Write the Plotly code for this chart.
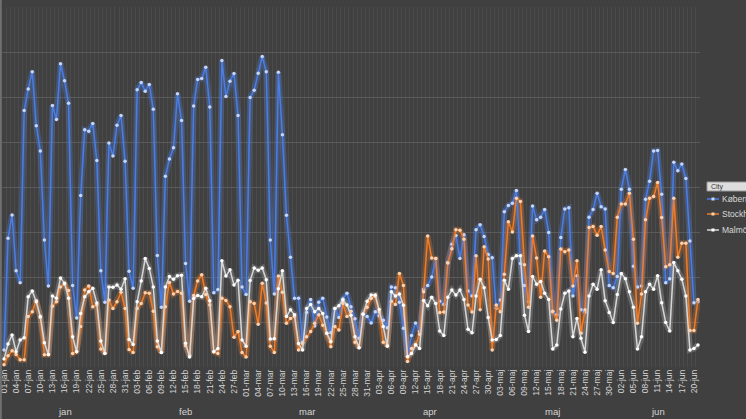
import plotly.graph_objects as go
import pandas as pd

# ---------------- data ----------------
dates = pd.date_range("2020-01-01", "2020-06-21", freq="D")
months_da = ["jan", "feb", "mar", "apr", "maj", "jun"]
day_labels = [f"{d.day:02d}-{months_da[d.month - 1]}" for d in dates]

kobenhavn = [
    0.38, 2.86, 3.38, 2.14, 1.87, 5.70, 6.18, 6.56, 5.36, 4.80,
    2.82, 1.80, 5.81, 5.50, 6.74, 6.36, 5.86, 1.81, 1.09, 3.81,
    5.27, 5.24, 5.41, 4.59, 2.14, 1.44, 4.98, 4.69, 5.37, 5.59,
    4.57, 2.13, 1.75, 6.16, 6.32, 6.13, 6.28, 5.73, 2.48, 1.33,
    4.24, 4.62, 4.87, 6.07, 5.48, 2.30, 1.46, 5.80, 6.39, 6.41,
    6.66, 5.78, 1.65, 1.72, 6.81, 6.01, 6.35, 6.52, 5.59, 1.78,
    1.61, 5.99, 6.15, 6.53, 6.90, 6.56, 2.82, 1.62, 6.55, 5.16,
    3.37, 2.44, 1.53, 1.53, 0.55, 1.21, 1.50, 0.91, 1.44, 1.53,
    1.11, 0.76, 1.30, 1.10, 1.51, 1.64, 1.34, 1.07, 0.64, 1.18,
    1.12, 0.98, 1.23, 1.14, 1.04, 0.87, 1.78, 1.76, 1.44, 0.86,
    0.23, 0.70, 0.98, 0.79, 1.72, 1.81, 2.00, 2.41, 1.46, 1.39,
    2.32, 2.73, 2.92, 2.41, 2.94, 1.69, 1.58, 3.05, 3.16, 2.90,
    2.50, 2.43, 1.30, 1.49, 3.45, 3.59, 3.64, 3.92, 2.30, 1.81,
    1.45, 3.58, 3.27, 3.33, 3.50, 2.99, 1.23, 1.16, 2.88, 3.51,
    3.54, 1.58, 2.03, 1.27, 1.22, 3.33, 3.50, 3.86, 3.56, 3.51,
    1.81, 1.76, 2.01, 3.95, 4.39, 3.95, 2.24, 1.78, 1.80, 3.73,
    4.13, 4.80, 4.81, 3.84, 1.87, 1.96, 4.55, 4.36, 4.51, 4.19,
    2.80, 1.43, 1.45,
]

stockholm = [
    0.05, 0.25, 0.36, 0.28, 0.16, 0.16, 1.12, 1.23, 1.48, 1.10,
    0.27, 0.27, 1.35, 1.45, 1.78, 1.84, 1.70, 0.30, 0.34, 0.90,
    1.71, 1.80, 1.34, 1.38, 0.40, 0.30, 1.49, 1.30, 1.45, 1.66,
    1.30, 0.39, 0.32, 1.30, 1.41, 1.65, 1.64, 1.24, 0.45, 0.32,
    1.34, 1.88, 1.62, 1.68, 1.64, 0.47, 0.26, 1.59, 1.91, 2.05,
    1.61, 1.38, 0.34, 0.30, 1.53, 1.48, 1.34, 0.66, 0.79, 0.32,
    0.22, 1.45, 1.41, 0.95, 1.86, 1.42, 0.46, 0.32, 2.02, 1.66,
    0.97, 1.08, 1.12, 0.38, 0.53, 0.67, 0.79, 0.97, 1.16, 0.93,
    0.75, 0.45, 0.90, 0.82, 1.41, 1.12, 1.24, 0.55, 0.43, 1.18,
    1.33, 1.52, 1.57, 1.22, 0.55, 0.49, 1.46, 1.39, 2.08, 1.81,
    0.12, 0.41, 0.50, 0.73, 1.67, 2.91, 2.42, 2.41, 1.21, 1.22,
    2.31, 2.63, 3.05, 3.04, 2.84, 1.38, 1.22, 2.47, 1.27, 2.67,
    2.40, 0.38, 1.38, 1.23, 2.06, 3.23, 3.00, 3.75, 3.68, 2.27,
    1.33, 2.91, 2.42, 1.55, 2.58, 2.45, 1.24, 1.04, 2.62, 2.56,
    2.60, 1.80, 2.36, 0.75, 1.27, 3.10, 3.12, 2.93, 3.12, 2.60,
    2.12, 2.08, 3.33, 3.62, 3.62, 3.86, 2.84, 0.97, 1.62, 3.27,
    3.75, 3.79, 4.10, 3.32, 2.23, 2.27, 3.75, 2.44, 2.75, 2.75,
    0.81, 0.81, 1.50,
]

malmo = [
    0.18, 0.51, 0.71, 0.34, 0.60, 0.65, 1.56, 1.69, 1.45, 1.12,
    0.54, 0.28, 1.58, 1.53, 1.98, 1.86, 1.53, 0.67, 0.34, 1.19,
    1.56, 1.67, 1.75, 1.42, 0.58, 0.30, 1.78, 1.77, 1.82, 1.73,
    1.96, 0.61, 0.50, 1.45, 1.91, 2.41, 2.19, 1.78, 0.58, 0.32,
    1.78, 2.01, 1.95, 2.03, 2.04, 0.53, 0.22, 1.52, 1.59, 1.56,
    1.75, 1.47, 0.34, 0.41, 2.36, 2.02, 2.16, 1.82, 1.93, 0.60,
    0.46, 1.92, 2.20, 2.15, 2.20, 1.94, 0.62, 0.63, 1.74, 2.14,
    1.12, 1.27, 1.16, 0.52, 0.38, 1.30, 1.39, 1.23, 1.30, 1.19,
    0.75, 0.56, 1.30, 1.36, 1.49, 1.38, 1.15, 0.67, 0.43, 1.17,
    1.46, 1.60, 1.60, 1.28, 0.90, 0.46, 1.67, 1.58, 1.62, 1.37,
    0.23, 0.30, 0.49, 0.41, 1.48, 1.36, 1.55, 1.41, 0.80, 0.70,
    1.55, 1.71, 1.60, 1.71, 1.50, 0.84, 0.76, 1.58, 1.95, 1.76,
    1.10, 0.60, 0.61, 0.70, 1.93, 1.73, 2.41, 2.47, 2.47, 1.15,
    0.79, 2.01, 1.84, 1.90, 1.64, 1.50, 0.40, 0.49, 1.29, 1.64,
    1.69, 0.67, 1.08, 0.64, 0.33, 1.58, 1.84, 1.73, 2.16, 1.47,
    1.21, 0.99, 1.61, 2.08, 1.96, 1.67, 1.33, 0.40, 0.67, 1.67,
    1.84, 1.73, 2.03, 1.43, 0.99, 0.80, 2.32, 2.14, 1.95, 1.58,
    0.38, 0.41, 0.49,
]

city_names = ["København", "Stockholm", "Malmö"]
legend_title = "City"

# ---------------- figure ----------------
W, H = 746, 419
ML, MR, MT, MB = 2, 46, 7, 52
PW, PH = W - ML - MR, H - MT - MB

BG = "#404040"
FONT = "Liberation Sans"
styles = [
    dict(line="#4a7ee6", glow="rgba(80,135,245,0.28)", marker="#c4d6fb"),
    dict(line="#f07c28", glow="rgba(245,130,45,0.28)", marker="#ffd2ad"),
    dict(line="#d6d6d6", glow="rgba(235,235,235,0.20)", marker="#ffffff"),
]

xi = list(range(len(dates)))
series = [kobenhavn, stockholm, malmo]

fig = go.Figure()
for name, vals, st in zip(city_names, series, styles):
    fig.add_trace(go.Scatter(
        x=xi, y=vals, mode="lines", showlegend=False, hoverinfo="skip",
        line=dict(color=st["glow"], width=6),
    ))
for name, vals, st in zip(city_names, series, styles):
    fig.add_trace(go.Scatter(
        x=xi, y=vals, mode="lines+markers", name=name, showlegend=False,
        line=dict(color=st["line"], width=1.5),
        marker=dict(size=3.5, color=st["marker"], line=dict(width=0)),
    ))

tickvals = xi[::3]
ticktext = day_labels[::3]


def px_x(px):
    return (px - ML) / PW


def px_y(py):
    return (H - MB - py) / PH


annotations = []
# month labels (centred under each month's days)
for m_idx, m_name in enumerate(months_da):
    idxs = [i for i, d in enumerate(dates) if d.month == m_idx + 1]
    annotations.append(dict(
        x=(idxs[0] + idxs[-1]) / 2, y=px_y(411), xref="x", yref="paper",
        text=m_name, showarrow=False, font=dict(family=FONT, size=9.5, color="#d4d4d4"),
        xanchor="center", yanchor="middle",
    ))

shapes = []
# left chart border
shapes.append(dict(type="line", xref="paper", yref="paper",
                   x0=px_x(0.8), x1=px_x(0.8), y0=px_y(0), y1=px_y(H),
                   line=dict(color="#707070", width=2)))
# legend field button "City"
shapes.append(dict(type="rect", xref="paper", yref="paper",
                   x0=px_x(707), x1=px_x(760), y0=px_y(191), y1=px_y(182),
                   fillcolor="#dedede", line=dict(color="#9a9a9a", width=1)))
annotations.append(dict(x=px_x(709), y=px_y(186.5), xref="paper", yref="paper",
                        text=legend_title, showarrow=False, xanchor="left", yanchor="middle",
                        font=dict(family=FONT, size=7, color="#333333")))
# legend entries
leg_y = [199, 214, 230]
for name, st, py in zip(city_names, styles, leg_y):
    shapes.append(dict(type="line", xref="paper", yref="paper",
                       x0=px_x(707), x1=px_x(719), y0=px_y(py), y1=px_y(py),
                       line=dict(color=st["line"], width=1.5)))
    shapes.append(dict(type="rect", xref="paper", yref="paper",
                       x0=px_x(711.5), x1=px_x(714.5), y0=px_y(py + 1.5), y1=px_y(py - 1.5),
                       fillcolor=st["marker"], line=dict(width=0)))
    annotations.append(dict(x=px_x(719.5), y=px_y(py), xref="paper", yref="paper",
                            text=name, showarrow=False, xanchor="left", yanchor="middle",
                            font=dict(family=FONT, size=8.5, color="#d9d9d9")))

fig.update_layout(
    width=W, height=H,
    margin=dict(l=ML, r=MR, t=MT, b=MB, autoexpand=False),
    paper_bgcolor=BG, plot_bgcolor=BG,
    showlegend=False,
    font=dict(family=FONT, color="#d4d4d4"),
    xaxis=dict(
        range=[-0.5, len(dates) - 0.5],
        tickmode="array", tickvals=tickvals, ticktext=ticktext,
        tickangle=-90, tickfont=dict(family=FONT, size=8.5, color="#d4d4d4"),
        ticklabeloverflow="allow",
        showgrid=False, zeroline=False, showline=False, ticks="",
        minor=dict(tickmode="linear", tick0=0.5, dtick=1, showgrid=True,
                   gridcolor="#4b4b4b", gridwidth=1, ticks=""),
    ),
    yaxis=dict(
        range=[0, 8], dtick=1, showticklabels=False,
        gridcolor="#5a5a5a", gridwidth=1, zeroline=False, showline=False,
    ),
    annotations=annotations,
    shapes=shapes,
)

page_fix = (
    "document.body.style.margin='0';"
    "document.body.style.padding='0';"
    "document.body.style.background='#404040';"
    "document.body.style.overflow='hidden';"
)
fig.write_html("out.html", post_script=page_fix,
               config={"displayModeBar": False, "staticPlot": True})
